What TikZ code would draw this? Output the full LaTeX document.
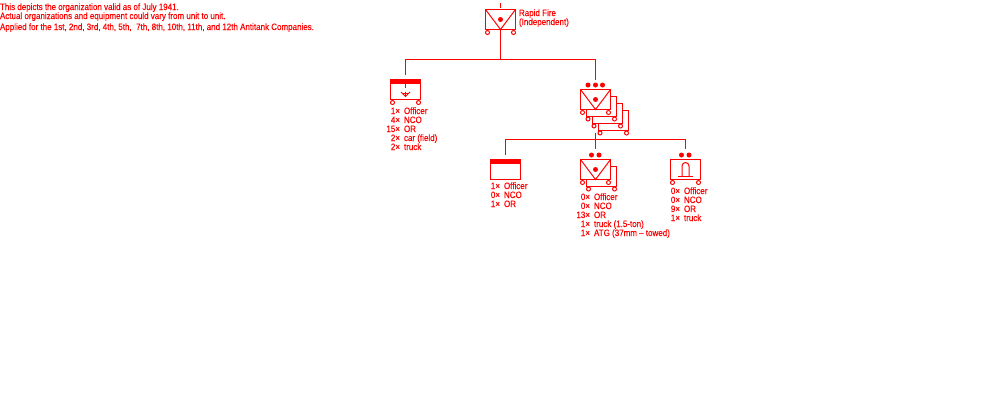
\documentclass[tikz,border=0pt]{standalone}
\usepackage{fontspec}
\setmainfont[FakeStretch=0.87,FakeBold=0.3]{Liberation Sans}
\definecolor{ink}{RGB}{255,0,0}
\tikzset{
  x=1pt,y=-1pt,
  every path/.style={line width=1pt},
  unitbox/.style={draw=ink,fill=white,minimum width=30pt,minimum height=20pt,inner sep=0pt,outer sep=0pt},
  wheel/.style={circle,draw=ink,fill=white,minimum size=4pt,inner sep=0pt,outer sep=0pt},
  dot/.style={circle,fill=ink,minimum size=5pt,inner sep=0pt,outer sep=0pt},
  link/.style={draw=ink},
  label/.style={text=ink,font=\fontsize{9.2}{9}\selectfont,inner sep=0pt,outer sep=0pt,anchor=base west,align=left},
  band/.style={fill=ink,draw=none}
}
\newcommand{\unitc}[2]{% name, centre
  \node[unitbox] (#1) at (#2) {};
  \node[wheel] (#1wl) at ([xshift=-13pt,yshift=-13pt]#1.center) {};
  \node[wheel] (#1wr) at ([xshift=13pt,yshift=-13pt]#1.center) {};
}
\newcommand{\env}[1]{%
  \draw[link] (#1.north west) -- (#1.south) -- (#1.north east);
  \node[dot] (#1dot) at (#1.center) {};
}
\newcommand{\topband}[1]{\fill[band] (#1.north west) rectangle ([yshift=-4pt]#1.north east);}
\newcommand{\ct}[2]{\hbox to 14pt{\hss #1\hspace{4pt}}#2}
\begin{document}
\begin{tikzpicture}
\useasboundingbox (0,0) rectangle (1000,400);
% header text
\node[label] (noteA) at (0,10) {This depicts the organization valid as of July 1941.};
\node[label] (noteB) at (0,19) {Actual organizations and equipment could vary from unit to unit.};
\node[label] (noteC) at (0,30) {Applied for the 1st, 2nd, 3rd, 4th, 5th,\ \ 7th, 8th, 10th, 11th, and 12th Antitank Companies.};
% HQ
\unitc{hq}{500.5,19.5}\env{hq}
\coordinate (hqtick) at (500.5,3);
\coordinate (hqtickb) at (500.5,8);
\draw[link] (hqtick) -- (hqtickb);
\node[label] (hqtext) at (519,25) {Rapid Fire\\(Independent)};
% HQ section
\unitc{sec}{405.5,89.5}\topband{sec}
\coordinate (sectick) at (405.5,75);
\coordinate (bustop) at (500.5,59.5);
\coordinate (secsyma) at (405.5,84);
\coordinate (secsymb) at (405.5,88);
\draw[link] (secsyma) -- (secsymb);
\coordinate (seccl) at (401,92);
\coordinate (seccm) at (405.5,96.5);
\coordinate (seccr) at (410,92);
\draw[link] (seccl) -- (seccm) -- (seccr);
\draw[link] (403,93.5) -- (408,93.5);
\draw[link] (405.5,91.5) -- (405.5,96);
\node[label] (sectext) at (390,150) {\ct{1×}{Officer}\\\ct{4×}{NCO}\\\ct{15×}{OR}\\\ct{2×}{car (field)}\\\ct{2×}{truck}};
% platoons stack
\node[unitbox] (st3) at (613.5,120.5) {};
\node[wheel] (st3wl) at (600,133) {};
\node[wheel] (st3wr) at (626.5,133) {};
\node[unitbox] (st2) at (607.5,113.5) {};
\node[wheel] (st2wl) at (594,126) {};
\node[wheel] (st2wr) at (620.5,126) {};
\node[unitbox] (st1) at (601.5,106.5) {};
\node[wheel] (st1wl) at (588,119) {};
\node[wheel] (st1wr) at (614.5,119) {};
\unitc{plt}{595.5,99.5}\env{plt}
\node[dot] (pd1) at (588,85) {};
\node[dot] (pd2) at (595.5,85) {};
\node[dot] (pd3) at (602.5,85) {};
\coordinate (plttick) at (595.5,80);
\coordinate (stackb) at (595.5,133);
\coordinate (bus2) at (595.5,139.5);
\coordinate (bus2b) at (595.5,149);
% connectors top
\draw[link] (hq.south) -- (bustop);
\draw[link] (sectick) |- (bustop) -| (plttick);
% connectors second level
\draw[link] (stackb) -- (bus2b);
\coordinate (cmdtick) at (505.5,155);
\coordinate (gunstick) at (685.5,149);
\draw[link] (cmdtick) |- (bus2) -| (gunstick);
% command section
\node[unitbox] (cmd) at (505.5,169.5) {};
\topband{cmd}
\node[label] (cmdtext) at (490,207) {\ct{1×}{Officer}\\\ct{0×}{NCO}\\\ct{1×}{OR}};
% gun section
\node[unitbox] (gun2) at (601.5,176.5) {};
\node[wheel] (gun2wl) at (588.5,189) {};
\node[wheel] (gun2wr) at (614.5,189) {};
\unitc{gun}{595.5,169.5}\env{gun}
\node[dot] (gd1) at (591.5,155) {};
\node[dot] (gd2) at (599,155) {};
\node[label] (guntext) at (580,236) {\ct{0×}{Officer}\\\ct{0×}{NCO}\\\ct{13×}{OR}\\\ct{1×}{truck (1.5-ton)}\\\ct{1×}{ATG (37mm -- towed)}};
% ammo section
\unitc{amm}{685.5,169.5}
\node[dot] (ad1) at (681.5,155) {};
\node[dot] (ad2) at (689,155) {};
\coordinate (bl) at (678,176.5);
\coordinate (br) at (692.5,176.5);
\draw[link] (bl) -- (br);
\draw[link] (682,176.5) -- (682,166) arc[start angle=180,end angle=0,radius=3.5pt] -- (689,176.5);
\node[label] (ammtext) at (670,221) {\ct{0×}{Officer}\\\ct{0×}{NCO}\\\ct{9×}{OR}\\\ct{1×}{truck}};
\end{tikzpicture}
\end{document}
